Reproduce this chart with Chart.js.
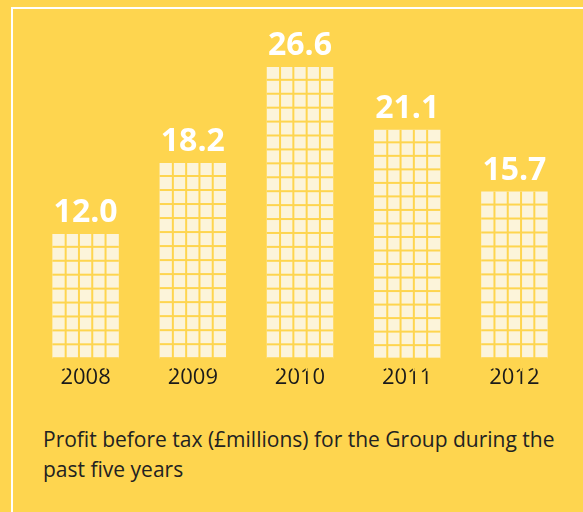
<!DOCTYPE html>
<html lang="en">
<head>
  <meta charset="UTF-8" />
  <title>Profit before tax</title>
  <script src="https://cdn.jsdelivr.net/npm/chart.js"></script>
  <style>
    html, body { margin: 0; padding: 0; }
    body { width: 583px; height: 512px; background: #fed54f; position: relative; overflow: hidden; font-family: "Open Sans", sans-serif; }
    .frame { position: absolute; left: 11px; top: 7px; right: -5px; bottom: -5px; border-top: 2px solid #fff; border-left: 2px solid #fff; }
    #wrap { position: absolute; left: 0; top: 0; width: 583px; height: 400px; }
    .caption { position: absolute; left: 43px; top: 424px; width: 525px; font-size: 21px; line-height: 30px; color: #222; }
  </style>
</head>
<body>
  <div class="frame"></div>
  <div id="wrap"><canvas id="profitChart"></canvas></div>
  <div class="caption">Profit before tax (£millions) for the Group during the past five years</div>

  <script>
    const years = ['2008', '2009', '2010', '2011', '2012'];
    const profit = [12.0, 18.2, 26.6, 21.1, 15.7];

    const yellow = '#fed54f';
    const cream = '#fcf4da';

    // cuts each bar into a grid of small tiles and writes the value above it
    const tiles = {
      id: 'tiles',
      afterDatasetsDraw(chart) {
        const ctx = chart.ctx;
        const meta = chart.getDatasetMeta(0);
        ctx.save();
        meta.data.forEach((bar, i) => {
          const left = bar.x - bar.width / 2;
          const top = bar.y;
          const bottom = bar.base;
          const h = bottom - top;
          ctx.fillStyle = yellow;
          for (let c = 1; c < 5; c++) {
            const gx = left + c * bar.width / 5;
            ctx.fillRect(gx - 1, top, 2, h);
          }
          // whole rows only, so the top and bottom tiles are complete
          const rows = Math.max(1, Math.round((h + 2) / 13.8));
          const pitch = (h + 2) / rows;
          for (let r = 1; r < rows; r++) {
            ctx.fillRect(left, top + r * pitch - 2, bar.width, 2);
          }
          ctx.fillStyle = '#ffffff';
          ctx.font = 'bold 32px "Open Sans"';
          ctx.textAlign = 'center';
          ctx.textBaseline = 'alphabetic';
          ctx.fillText(profit[i].toFixed(1), bar.x, top - 12);
        });
        ctx.restore();
      }
    };

    new Chart(document.getElementById('profitChart'), {
      type: 'bar',
      data: {
        labels: years,
        datasets: [{
          data: profit,
          backgroundColor: cream,
          borderWidth: 0,
          barPercentage: 0.62,
          categoryPercentage: 1
        }]
      },
      options: {
        responsive: true,
        maintainAspectRatio: false,
        animation: false,
        layout: { padding: { left: 32, right: 15, top: 28, bottom: 11 } },
        plugins: { legend: { display: false }, tooltip: { enabled: false } },
        scales: {
          x: {
            grid: { display: false },
            border: { display: false },
            ticks: { color: '#1a1a1a', font: { family: 'Open Sans', size: 22 }, padding: -2 }
          },
          y: { display: false, min: 1.1, max: 30 }
        }
      },
      plugins: [tiles]
    });
  </script>
</body>
</html>
